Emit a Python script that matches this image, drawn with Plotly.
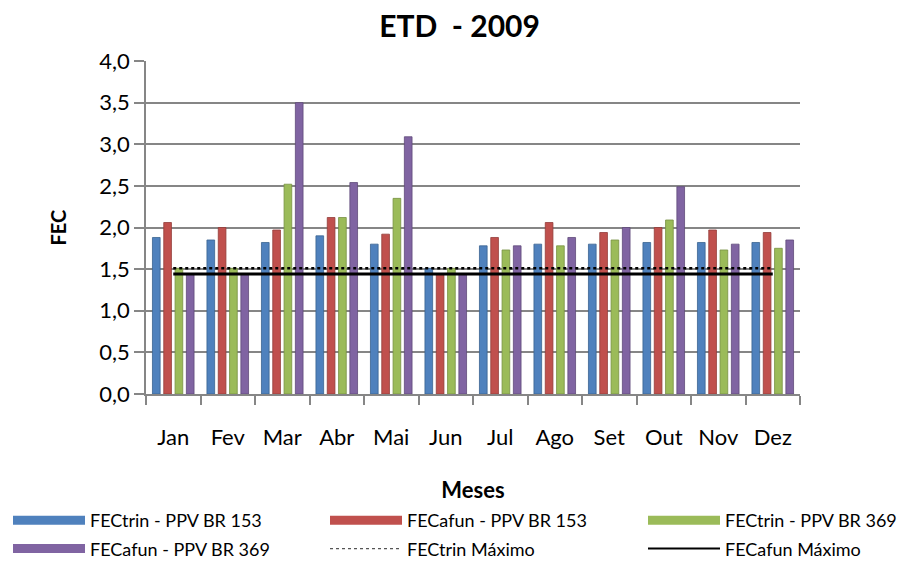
import plotly.graph_objects as go

meses = ["Jan", "Fev", "Mar", "Abr", "Mai", "Jun", "Jul", "Ago", "Set", "Out", "Nov", "Dez"]

fectrin_br153 = [1.88, 1.85, 1.82, 1.90, 1.80, 1.51, 1.78, 1.80, 1.80, 1.82, 1.82, 1.82]
fecafun_br153 = [2.06, 2.00, 1.97, 2.12, 1.92, 1.44, 1.88, 2.06, 1.94, 2.00, 1.97, 1.94]
fectrin_br369 = [1.51, 1.51, 2.52, 2.12, 2.35, 1.51, 1.73, 1.78, 1.85, 2.09, 1.73, 1.75]
fecafun_br369 = [1.44, 1.44, 3.50, 2.54, 3.09, 1.44, 1.78, 1.88, 2.00, 2.49, 1.80, 1.85]
fectrin_max = [1.51] * 12
fecafun_max = [1.44] * 12

fonte = "Lato"
cinza = "#868686"

# the page body has an 8px margin, so the figure is drawn a bit smaller
W, H = 903, 554

fig = go.Figure()

# (name, values, colour, border, legend column)
series = [
    ("FECtrin - PPV BR 153", fectrin_br153, "#4F81BD", "#3A6391", "legend"),
    ("FECafun - PPV BR 153", fecafun_br153, "#C0504D", "#933C3A", "legend2"),
    ("FECtrin - PPV BR 369", fectrin_br369, "#9BBB59", "#779143", "legend3"),
    ("FECafun - PPV BR 369", fecafun_br369, "#8064A2", "#5F4A7A", "legend"),
]
for nome, vals, cor, borda, leg in series:
    fig.add_trace(go.Bar(x=meses, y=vals, name=nome, showlegend=False,
                         marker=dict(color=cor, line=dict(color=borda, width=0.8))))

fig.add_trace(go.Scatter(x=meses, y=fectrin_max, name="FECtrin Máximo", mode="lines",
                         line=dict(color="black", width=2.5, dash="dot"), showlegend=False))
fig.add_trace(go.Scatter(x=meses, y=fecafun_max, name="FECafun Máximo", mode="lines",
                         line=dict(color="black", width=3), showlegend=False))

# legend entries (wide bar swatches like the Excel legend)
for nome, vals, cor, borda, leg in series:
    fig.add_trace(go.Scatter(x=[None], y=[None], name=nome, mode="lines", legend=leg, legendgroup=nome,
                             line=dict(color=cor, width=9)))
fig.add_trace(go.Scatter(x=[None], y=[None], name="FECtrin Máximo", mode="lines", legend="legend2",
                         legendgroup="trinmax", line=dict(color="#555555", width=1.2, dash="dot")))
fig.add_trace(go.Scatter(x=[None], y=[None], name="FECafun Máximo", mode="lines", legend="legend3",
                         legendgroup="afunmax", line=dict(color="black", width=2)))


def coluna(x):
    return dict(orientation="v", xref="container", yref="container", x=x / W, xanchor="left",
                y=1 - 494 / H, yanchor="top", itemwidth=72, tracegroupgap=2,
                bgcolor="rgba(0,0,0,0)", font=dict(family=fonte, size=18, color="black"))


fig.update_layout(
    width=W, height=H,
    margin=dict(l=138, r=111, t=53, b=168, autoexpand=False),
    paper_bgcolor="white", plot_bgcolor="white",
    separators=", ",
    font=dict(family=fonte, size=22, color="black"),
    title=dict(text="<b>ETD\u00a0 - 2009</b>", x=0.5, xanchor="center", xref="container",
               y=1 - 18 / H, yanchor="middle",
               font=dict(family=fonte, size=30, color="black")),
    barmode="group", bargap=0.17, bargroupgap=0.32,
    showlegend=True,
    legend=coluna(0),
    legend2=coluna(317),
    legend3=coluna(635),
)

# y-axis title as a rotated label left of the tick labels
fig.add_annotation(text="<b>FEC</b>", xref="paper", yref="paper", x=-0.136, y=0.5,
                   xanchor="center", yanchor="middle", textangle=-90, showarrow=False,
                   font=dict(family=fonte, size=20, color="black"))

fig.update_xaxes(
    title=dict(text="<b>Meses</b>", font=dict(family=fonte, size=22), standoff=33),
    showline=True, linecolor=cinza, linewidth=1.5,
    ticks="outside", tickson="boundaries", ticklen=9, tickcolor=cinza, tickwidth=1.5,
    ticklabelstandoff=23,
    tickfont=dict(family=fonte, size=22),
)
fig.update_yaxes(
    range=[0, 4], dtick=0.5, tickformat=".1f",
    showgrid=True, gridcolor=cinza, gridwidth=1.8,
    showline=True, linecolor=cinza, linewidth=1.5,
    ticks="outside", ticklen=10, tickcolor=cinza, tickwidth=1.5,
    tickfont=dict(family=fonte, size=22),
    zeroline=False,
)

fig.write_html("out.html")
